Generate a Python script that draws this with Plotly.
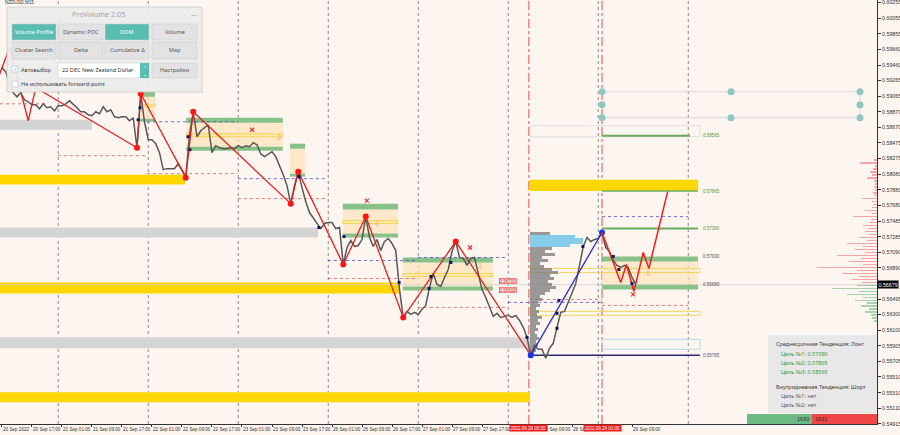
import plotly.graph_objects as go

# ---------------- data (x = trading-hour index, 20 Sep 00:00 = 0, weekend removed) ----------------
hours = list(range(9, 179))
close = [
    0.59425, 0.59374, 0.59210, 0.59109, 0.59058, 0.59109, 0.59020, 0.58995, 0.58957, 0.58957,
    0.58906, 0.58969, 0.58919, 0.58932, 0.58881, 0.58944, 0.58944, 0.58969, 0.59007, 0.58969,
    0.58919, 0.58868, 0.58868, 0.58830, 0.58818, 0.58868, 0.58843, 0.58932, 0.58868, 0.58894,
    0.58805, 0.58793, 0.58805, 0.58805, 0.58755, 0.58793, 0.58413, 0.59096, 0.58742, 0.58514,
    0.58514, 0.58464, 0.58350, 0.58135, 0.58148, 0.58148, 0.58148, 0.58211, 0.58135, 0.58034,
    0.58578, 0.58868, 0.58552, 0.58628, 0.58666, 0.58704, 0.58350, 0.58439, 0.58413, 0.58401,
    0.58401, 0.58413, 0.58401, 0.58439, 0.58413, 0.58439, 0.58426, 0.58477, 0.58451, 0.58337,
    0.58300, 0.58337, 0.58363, 0.58300, 0.58186, 0.58072, 0.57933, 0.57705, 0.57933, 0.58110,
    0.57908, 0.57731, 0.57592, 0.57529, 0.57453, 0.57389, 0.57453, 0.57465, 0.57465, 0.57389,
    0.57402, 0.56934, 0.57149, 0.57238, 0.57162, 0.57175, 0.57250, 0.57541, 0.57276, 0.57162,
    0.57250, 0.57111, 0.57225, 0.57263, 0.57200, 0.57111, 0.56618, 0.56264, 0.56340, 0.56302,
    0.56328, 0.56302, 0.56366, 0.56416, 0.56644, 0.56821, 0.56682, 0.56656, 0.56770, 0.56871,
    0.57099, 0.57225, 0.57023, 0.57010, 0.56922, 0.57010, 0.57023, 0.56808, 0.56618, 0.56517,
    0.56391, 0.56277, 0.56315, 0.56264, 0.56277, 0.56290, 0.56264, 0.56290, 0.56227, 0.56138,
    0.56012, 0.55784, 0.55911, 0.55860, 0.55860, 0.55746, 0.55873, 0.55936, 0.56138, 0.56328,
    0.56340, 0.56467, 0.56593, 0.56694, 0.56922, 0.57162, 0.57276, 0.57225, 0.57250, 0.57263,
    0.57339, 0.57149, 0.57099, 0.56985, 0.56922, 0.56897, 0.56922, 0.56897, 0.56770, 0.56682,
]
current_price = 0.56679

zz_h = [8, 11, 16, 18, 45, 46, 58, 60, 86, 88, 100, 106, 116, 130, 150]
zz_p = [0.59298, 0.59677, 0.58755, 0.59172, 0.58413, 0.59096, 0.58034, 0.58868,
        0.57705, 0.58110, 0.56934, 0.57541, 0.56264, 0.57225, 0.55784]

blue_h = [150, 169]
blue_p = [0.55784, 0.57339]

proj_h = [169, 174, 175.5, 177.5, 180, 181.5, 186.5]
proj_p = [0.57339, 0.56707, 0.56934, 0.56593, 0.57086, 0.56884, 0.57857]

nav_h = [45.3, 45.8, 58.6, 59.1, 88.2, 93.5, 100.2, 114.9, 122.9, 123.4, 128.7, 149.0,
         157.0, 157.0, 157.5, 163.9, 172.0, 173.5, 177.0]
nav_p = [0.58767, 0.58919, 0.58552, 0.58388, 0.58047, 0.57402, 0.57288, 0.56707, 0.56631,
         0.56783, 0.56960, 0.56012, 0.56126, 0.56315, 0.56479, 0.57162, 0.57036, 0.56871, 0.56694]

xmark_h = [75.7, 106.3, 133.8, 177.3]
xmark_p = [0.58641, 0.57743, 0.57149, 0.56555]
arrow_h = [82.9, 109.0, 136.5, 181.3]
arrow_p = [0.58540, 0.57453, 0.56897, 0.56808]

# horizontal bands
gold_x0 = [8.47, 8.47, 8.47, 149.8]
gold_x1 = [57.8, 115.1, 149.8, 194.6]
gold_top = [0.58072, 0.56707, 0.55317, 0.58009]
gold_bot = [0.57946, 0.56568, 0.55190, 0.57865]

gray_x1 = [33.0, 93.3, 149.8]
gray_top = [0.58767, 0.57402, 0.56012]
gray_bot = [0.58641, 0.57276, 0.55873]

# cluster zones
zone_x0 = [45.8, 58.1, 85.8, 99.9, 115.9]
zone_x1 = [49.8, 83.9, 89.8, 114.6, 139.9]
zone_hi = [0.59121, 0.58793, 0.58464, 0.57705, 0.57023]
zone_hi2 = [0.59058, 0.58729, 0.58401, 0.57630, 0.56960]
zone_lo2 = [0.58780, 0.58426, 0.58085, 0.57326, 0.56656]
zone_lo = [0.58742, 0.58375, 0.58047, 0.57276, 0.56606]
poc_hi = [0.58957, 0.58590, None, 0.57491, 0.56821]
poc_lo = [0.58932, 0.58552, None, 0.57453, 0.56783]

# day levels (dotted)
lvl_x0 = [8.47, 47.7, 23.9, 47.7, 71.9, 71.9, 95.9, 95.9, 119.9, 119.9, 143.9, 149.5, 169.0, 169.0]
lvl_x1 = [20.9, 71.9, 47.7, 71.9, 95.9, 95.9, 119.9, 119.9, 143.9, 143.9, 169.0, 169.0, 191.9, 191.9]
lvl_p = [0.58969, 0.58742, 0.58312, 0.58085, 0.58021, 0.57769, 0.56985, 0.56757, 0.57023,
         0.56391, 0.56454, 0.56492, 0.56416, 0.57541]
lvl_kind = ['r', 'b', 'r', 'r', 'b', 'r', 'b', 'r', 'b', 'r', 'b', 'r', 'r', 'b']

# targets
target_p = [0.58565, 0.57865, 0.57390]
target_lbl = ["0.58565", "0.57865", "0.57390"]
level_lbl_p = [0.57030, 0.56680, 0.55785]
level_lbl = ["0.57030", "0.56680", "0.55785"]

teal_h = [169, 169, 169, 203.4, 203.4, 237.8, 237.8, 237.8]
teal_p = [0.59121, 0.58957, 0.58793, 0.59121, 0.58793, 0.59121, 0.58957, 0.58793]

# session volume profile
vp_levels = [0.57326, 0.57288, 0.57250, 0.57212, 0.57174, 0.57136, 0.57098, 0.57060, 0.57023,
             0.56985, 0.56947, 0.56909, 0.56871, 0.56833, 0.56795, 0.56757, 0.56719, 0.56681,
             0.56643, 0.56606, 0.56568, 0.56530, 0.56492, 0.56454, 0.56416, 0.56378, 0.56340,
             0.56302, 0.56264, 0.56227, 0.56189, 0.56151, 0.56113, 0.56075, 0.56037, 0.55999,
             0.55961, 0.55923, 0.55886, 0.55848, 0.55810, 0.55772]
vp_vol = [20, 45, 53, 53, 40, 22, 15, 25, 12, 18, 10, 14, 22, 28, 20, 24, 18, 22, 26, 20, 15,
          10, 12, 8, 10, 6, 9, 7, 12, 8, 10, 6, 8, 5, 7, 9, 6, 8, 5, 6, 4, 3]

# DOM at right edge
ask_levels = [0.58262, 0.58224, 0.58186, 0.58148, 0.58110, 0.58072, 0.58034, 0.57996, 0.57958,
              0.57920, 0.57882, 0.57844, 0.57807, 0.57769, 0.57731, 0.57693, 0.57655, 0.57617,
              0.57579, 0.57541, 0.57503, 0.57465, 0.57427, 0.57389, 0.57352, 0.57314, 0.57276,
              0.57238, 0.57200, 0.57162, 0.57124, 0.57086, 0.57048, 0.57010, 0.56972, 0.56934,
              0.56897, 0.56859, 0.56821, 0.56783, 0.56745, 0.56707]
ask_vol = [3, 17, 2, 4, 7, 5, 10, 3, 2, 3, 2, 4, 3, 15, 5, 4, 5, 12, 5, 24, 6, 8, 14, 9, 12, 8,
           18, 10, 30, 14, 22, 12, 40, 16, 28, 14, 60, 20, 35, 18, 25, 15]
bid_levels = [0.56669, 0.56631, 0.56593, 0.56555, 0.56517, 0.56479, 0.56442, 0.56404, 0.56366,
              0.56328, 0.56290, 0.56252, 0.56214]
bid_vol = [20, 45, 18, 30, 14, 22, 10, 16, 8, 12, 6, 5, 3]

# time axis (labels hidden by the red event tags are left blank, as in the screenshot)
tick_h = list(range(9, 178, 8))
tick_lbl = ["20 Sep 2022", "20 Sep 17:00", "21 Sep 01:00", "21 Sep 09:00", "21 Sep 17:00",
            "22 Sep 01:00", "22 Sep 09:00", "22 Sep 17:00", "23 Sep 01:00", "23 Sep 09:00",
            "23 Sep 17:00", "26 Sep 01:00", "26 Sep 09:00", "26 Sep 17:00", "27 Sep 01:00",
            "27 Sep 09:00", "27 Sep 17:00", "", "28 Sep 09:00", "28 Sep 17:00",
            "", "29 Sep 09:00"]
day_h = [24, 48, 72, 96, 120, 144, 168, 192]
event_h = [149.5, 169]
event_lbl = ["2022.09.28 00:50", "2022.09.29 01:00"]

price_ticks = [0.60255, 0.60055, 0.59855, 0.59660, 0.59460, 0.59265, 0.59065, 0.58870, 0.58670,
               0.58475, 0.58275, 0.58080, 0.57880, 0.57680, 0.57485, 0.57285, 0.57090, 0.56890,
               0.56495, 0.56300, 0.56100, 0.55905, 0.55705, 0.55510, 0.55310, 0.55110, 0.54915]

# ---------------- figure ----------------
X0, X1 = 8.47, 242.33
Y0, Y1 = 0.54914, 0.60284
PW, PH = 877, 424
HPX = 1 / 3.75  # hours per screen pixel for profile lengths
BG = '#fdf5ef'
NONE = 'rgba(0,0,0,0)'

shapes = []
annots = []


def pp(xp, yp):
    return xp / PW, 1 - yp / PH


def rect_d(x0, x1, y0, y1, fill, line=NONE, lw=0, layer='below'):
    shapes.append(dict(type='rect', xref='x', yref='y', x0=x0, x1=x1, y0=y0, y1=y1,
                       fillcolor=fill, line=dict(color=line, width=lw), layer=layer))


def line_d(x0, x1, y0, y1, color, width=1.0, dash='solid', layer='below'):
    shapes.append(dict(type='line', xref='x', yref='y', x0=x0, x1=x1, y0=y0, y1=y1,
                       line=dict(color=color, width=width, dash=dash), layer=layer))


def rect_p(xa, ya, xb, yb, fill, line=NONE, lw=0):
    x0, y0 = pp(xa, ya)
    x1, y1 = pp(xb, yb)
    shapes.append(dict(type='rect', xref='paper', yref='paper', x0=x0, x1=x1, y0=y1, y1=y0,
                       fillcolor=fill, line=dict(color=line, width=lw), layer='above'))


def txt_p(xp, yp, s, size, color, xanchor='left', family='Noto Sans', bg=None):
    x, y = pp(xp, yp)
    d = dict(x=x, y=y, xref='paper', yref='paper', text=s, showarrow=False, xanchor=xanchor,
             yanchor='middle', font=dict(size=size, color=color, family=family), borderpad=0)
    if bg:
        d['bgcolor'] = bg
    annots.append(d)


# day separators and event lines
for h in day_h:
    line_d(h, h, Y0, Y1, '#6e6e6e', 0.8, 'dot')
for h in event_h:
    line_d(h, h, Y0, Y1, '#e03c3c', 0.9, 'dashdot')

# bands
for i in range(len(gold_x0)):
    rect_d(gold_x0[i], gold_x1[i], gold_bot[i], gold_top[i], '#ffd700')
for i in range(len(gray_x1)):
    rect_d(X0, gray_x1[i], gray_bot[i], gray_top[i], '#d4d4d4')

# cluster zones
for i in range(len(zone_x0)):
    rect_d(zone_x0[i], zone_x1[i], zone_lo2[i], zone_hi2[i], 'rgba(252,228,190,0.75)')
    rect_d(zone_x0[i], zone_x1[i], zone_hi2[i], zone_hi[i], '#88c288')
    rect_d(zone_x0[i], zone_x1[i], zone_lo[i], zone_lo2[i], '#88c288')
    if poc_hi[i] is not None:
        rect_d(zone_x0[i], zone_x1[i], poc_lo[i], poc_hi[i], '#fbe9a6', '#f2cf48', 0.8)

# projection area on the right
rect_d(149.8, 195.1, 0.58552, 0.58691, NONE, '#d8d8d8', 0.8)
rect_d(169.0, 194.6, 0.56682, 0.56972, 'rgba(252,228,190,0.7)')
rect_d(169.0, 194.6, 0.56972, 0.57036, '#88c288')
rect_d(169.0, 194.6, 0.56618, 0.56682, '#88c288')
rect_d(149.8, 195.1, 0.56833, 0.56884, NONE, '#f2d24e', 0.9)
rect_d(149.8, 195.1, 0.56290, 0.56340, NONE, '#f2d24e', 0.9)
rect_d(169.0, 195.1, 0.55860, 0.55986, NONE, '#a8d8e8', 0.9)
line_d(X0, X1, current_price, current_price, '#d0d0d0', 0.8)
line_d(169.0, 192.5, target_p[0], target_p[0], '#6aab5e', 2.2)
line_d(169.0, 194.6, target_p[1], target_p[1], '#6aab5e', 1.6)
line_d(169.0, 194.6, target_p[2], target_p[2], '#6aab5e', 1.8)
line_d(149.5, 195.1, 0.55785, 0.55785, '#2a2a7a', 1.3)

# daily levels
for i in range(len(lvl_p)):
    col = '#e05a5a' if lvl_kind[i] == 'r' else '#4a4ad0'
    line_d(lvl_x0[i], lvl_x1[i], lvl_p[i], lvl_p[i], col, 0.8, 'dot')

# teal target markers lines
line_d(169, 237.8, teal_p[0], teal_p[0], '#d6d6d6', 1.0)
line_d(169, 237.8, teal_p[2], teal_p[2], '#d6d6d6', 1.0)
line_d(237.8, 237.8, teal_p[2], teal_p[0], '#d6d6d6', 1.0)

fig = go.Figure()

# session volume profile
vp_col = ['#87cdea' if 1 <= i <= 4 else 'rgba(120,120,120,0.75)' for i in range(len(vp_vol))]
fig.add_trace(go.Bar(y=vp_levels, x=[v * HPX for v in vp_vol], base=149.8, orientation='h',
                     width=0.00034, marker=dict(color=vp_col, line=dict(width=0)), hoverinfo='skip'))
# DOM profile at the right edge
fig.add_trace(go.Bar(y=ask_levels, x=[-v * HPX for v in ask_vol], base=X1, orientation='h',
                     width=0.00022, marker=dict(color='rgba(240,110,110,0.6)', line=dict(width=0)),
                     hoverinfo='skip'))
fig.add_trace(go.Bar(y=bid_levels, x=[-v * HPX for v in bid_vol], base=X1, orientation='h',
                     width=0.00022, marker=dict(color='rgba(110,185,130,0.6)', line=dict(width=0)),
                     hoverinfo='skip'))

# price
fig.add_trace(go.Scatter(x=hours, y=close, mode='lines', line=dict(color='#585858', width=1.5),
                         hoverinfo='skip'))
# zigzag
fig.add_trace(go.Scatter(x=zz_h, y=zz_p, mode='lines', line=dict(color='#e22020', width=1.3)))
fig.add_trace(go.Scatter(x=zz_h[4:14], y=zz_p[4:14], mode='markers',
                         marker=dict(color='#ff1414', size=6)))
fig.add_trace(go.Scatter(x=blue_h, y=blue_p, mode='lines+markers', line=dict(color='#2a2ad8', width=1.3),
                         marker=dict(color='#1638f0', size=6)))
fig.add_trace(go.Scatter(x=proj_h, y=proj_p, mode='lines', line=dict(color='#f01e1e', width=1.5)))
fig.add_trace(go.Scatter(x=nav_h, y=nav_p, mode='markers',
                         marker=dict(color='#14145e', size=3, symbol='square')))
fig.add_trace(go.Scatter(x=xmark_h, y=xmark_p, mode='markers',
                         marker=dict(color='#e83030', size=4, symbol='x-thin', line=dict(width=1.2, color='#e83030'))))
fig.add_trace(go.Scatter(x=arrow_h, y=arrow_p, mode='text', text=['⇩'] * len(arrow_h),
                         textfont=dict(size=8, color='#f0a060', family='DejaVu Sans')))
fig.add_trace(go.Scatter(x=teal_h, y=teal_p, mode='markers',
                         marker=dict(color='#90c8c0', size=7)))

# level labels
for p, s in zip(target_p, target_lbl):
    annots.append(dict(x=195.4, y=p, xref='x', yref='y', text=s, showarrow=False, xanchor='left',
                       font=dict(size=4.5, color='#4a9a42', family='Liberation Sans')))
for p, s, c in zip(level_lbl_p, level_lbl, ['#505050', '#505050', '#50507a']):
    annots.append(dict(x=195.4, y=p, xref='x', yref='y', text=s, showarrow=False, xanchor='left',
                       font=dict(size=4.5, color=c, family='Liberation Sans')))
for p, s in zip([0.56720, 0.56606], ["0.56700", "0.56600"]):
    annots.append(dict(x=141.5, y=p, xref='x', yref='y', text=s, showarrow=False, xanchor='left',
                       font=dict(size=4.5, color='#d03030', family='Liberation Sans'),
                       bgcolor='#fde2e2', bordercolor='#e04040', borderwidth=0.6, borderpad=0))

# current price tag
annots.append(dict(x=1.0, y=current_price, xref='paper', yref='y', text='0.56679', showarrow=False,
                   xanchor='left', font=dict(size=5.3, color='white', family='Liberation Sans'),
                   bgcolor='#000000', borderpad=0.5))
# event time tags on the time axis
for h, s in zip(event_h, event_lbl):
    annots.append(dict(x=h, y=-0.0095, xref='x', yref='paper', text=s, showarrow=False,
                       xanchor='center', yanchor='middle',
                       font=dict(size=4.5, color='white', family='Liberation Sans'),
                       bgcolor='#f01c1c', borderpad=0.5))

# symbol caption
txt_p(4, 3, 'NZDUSD,M15', 4.5, '#333333', family='Liberation Sans')

# ---------- ProVolume panel ----------
rect_p(7, 7, 202, 92, 'rgba(236,236,236,0.94)', '#c9c9c9', 0.8)
txt_p(98, 14, 'ProVolume 2.05', 7.2, '#a4a4a4', 'center')
txt_p(194, 15, '—', 6, '#9a9a9a', 'center')
TEAL = '#59bdb1'
rows = [
    (24, 40, [("Volume Profile", 12, 56, True), ("Dynamic POC", 58, 103, False),
              ("DOM", 105, 149, True), ("Volume", 152, 197, False)]),
    (42, 59, [("Cluster Search", 12, 56, False), ("Delta", 58, 103, False),
              ("Cumulative Δ", 105, 149, False), ("Map", 152, 197, False)]),
]
for ya, yb, btns in rows:
    for label, xa, xb, on in btns:
        rect_p(xa, ya, xb, yb, TEAL if on else '#e3e3e3', '#cfcfcf', 0.6)
        txt_p((xa + xb) / 2, (ya + yb) / 2, label, 5.6, 'white' if on else '#555555', 'center')
rect_p(58, 63, 149, 78, '#ffffff', '#d0d0d0', 0.6)
rect_p(140, 63, 149, 78, TEAL)
txt_p(144.5, 68, '⌃', 5, 'white', 'center', family='DejaVu Sans')
txt_p(144.5, 74, '⌄', 5, 'white', 'center', family='DejaVu Sans')
txt_p(61, 70.5, '22 DEC New Zealand Dollar', 5.6, '#333333')
rect_p(152, 63, 197, 78, '#e3e3e3', '#cfcfcf', 0.6)
txt_p(174.5, 70.5, 'Настройки', 5.6, '#555555', 'center')
rect_p(12, 66, 18, 72, '#ffffff', '#bdbdbd', 0.6)
txt_p(15, 68.5, '✓', 6, TEAL, 'center', family='DejaVu Sans')
txt_p(20, 70, 'Автовыбор', 5.6, '#444444')
rect_p(12, 81, 18, 87, '#ffffff', '#bdbdbd', 0.6)
txt_p(20, 84, 'Не использовать forward-point', 5.6, '#444444')

# ---------- trend info box ----------
rect_p(768, 335, 877, 413, 'rgba(231,231,231,0.96)')
txt_p(775, 344, 'Среднесрочная Тенденция: Лонг', 5.5, '#3c3c3c')
txt_p(780, 354, 'Цель №1: 0.57390', 5.5, '#3a983a')
txt_p(780, 363, 'Цель №2: 0.57865', 5.5, '#3a983a')
txt_p(780, 372, 'Цель №3: 0.58565', 5.5, '#3a983a')
txt_p(775, 387, 'Внутридневная Тенденция: Шорт', 5.5, '#3c3c3c')
txt_p(780, 396, 'Цель №1: нет', 5.5, '#5c5c5c')
txt_p(780, 405, 'Цель №2: нет', 5.5, '#5c5c5c')
rect_p(747, 414, 812, 424, '#6cbb84')
rect_p(812, 414, 877, 424, '#f04848')
txt_p(810, 419, '1630', 5.5, '#2a2a2a', 'right', family='Liberation Sans')
txt_p(814, 419, '1631', 5.5, '#2a2a2a', 'left', family='Liberation Sans')

fig.update_layout(
    width=900, height=435,
    margin=dict(l=0, r=23, t=0, b=11, pad=0),
    paper_bgcolor=BG, plot_bgcolor=BG,
    showlegend=False, barmode='overlay', bargap=0,
    shapes=shapes, annotations=annots,
    xaxis=dict(range=[X0, X1], tickvals=tick_h, ticktext=tick_lbl, ticks='outside', ticklen=2,
               tickcolor='#333333', showline=True, linecolor='#333333', linewidth=1, tickangle=0,
               showgrid=False, zeroline=False, ticklabelposition='outside right', automargin=False,
               ticklabelstandoff=0,
               tickfont=dict(size=4.6, color='#333333', family='Liberation Sans Narrow, Liberation Sans')),
    yaxis=dict(range=[Y0, Y1], side='right', tickvals=price_ticks,
               ticktext=[f'{v:.5f}' for v in price_ticks], ticks='outside', ticklen=3,
               tickcolor='#333333', showline=True, linecolor='#333333', linewidth=1,
               showgrid=False, zeroline=False, automargin=False, ticklabeloverflow='allow',
               tickfont=dict(size=5.3, color='#333333', family='Liberation Sans')),
)

fig.write_html('out.html', config={'displayModeBar': False},
               post_script="document.body.style.margin='0';document.body.style.overflow='hidden';")
